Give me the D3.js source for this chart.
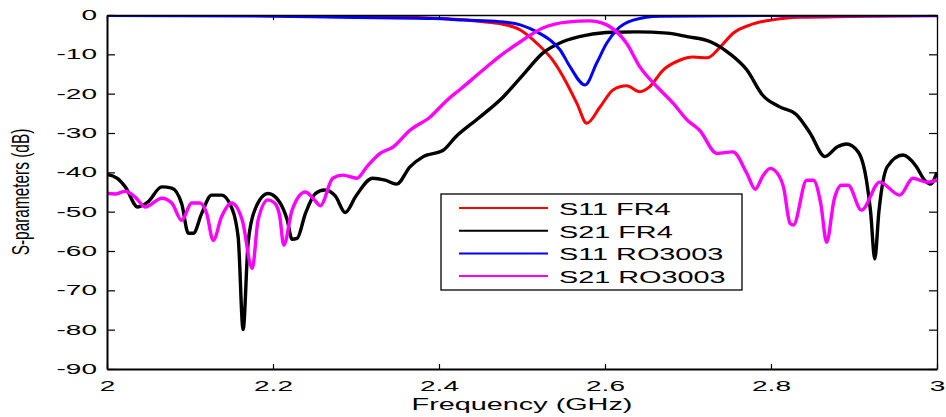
<!DOCTYPE html>
<html>
<head>
<meta charset="utf-8">
<script src="https://cdn.jsdelivr.net/npm/d3@7"></script>
<style>
  body { margin: 0; background: #fff; }
  svg { display: block; font-family: "Liberation Sans", Arial, sans-serif; }
</style>
</head>
<body>
<svg id="chart" width="946" height="417"></svg>
<script>
// S21 FR4 (black)
const s21FrFreq = [2.000, 2.012, 2.022, 2.037, 2.049, 2.066, 2.078, 2.090, 2.098, 2.104,
  2.114, 2.126, 2.138, 2.148, 2.158, 2.164, 2.170, 2.178, 2.194, 2.206,
  2.217, 2.223, 2.229, 2.239, 2.251, 2.262, 2.275, 2.287, 2.300, 2.320,
  2.335, 2.349, 2.365, 2.381, 2.405, 2.420, 2.446, 2.477, 2.501, 2.525,
  2.549, 2.578, 2.610, 2.638, 2.675, 2.699, 2.727, 2.750, 2.771, 2.790,
  2.810, 2.831, 2.847, 2.865, 2.880, 2.891, 2.905, 2.915, 2.920, 2.925,
  2.930, 2.940, 2.959, 2.975, 2.985, 2.992, 3.000];
const s21FrDb = [-40.5, -41.5, -43.7, -48.8, -47.6, -43.7, -44, -48, -55.5, -55.5,
  -50.5, -45.8, -45.8, -48, -56.4, -80, -58, -49.6, -45.4, -47,
  -52, -57, -56.8, -50.5, -45.4, -44.5, -46, -50.2, -46, -41.5,
  -42, -43, -38.6, -36, -34.4, -31, -26.5, -20.9, -15.3, -9.7,
  -6.8, -5.1, -4.4, -4.3, -4.6, -5.5, -6.8, -9.8, -14, -20.4,
  -23.3, -25.4, -30, -36, -33.5, -32.8, -34.8, -42, -50, -62,
  -50, -38.6, -35.6, -38.5, -42, -43, -40];

// S11 FR4 (red)
const s11FrFreq = [2.000, 2.100, 2.250, 2.330, 2.393, 2.430, 2.453, 2.473, 2.498, 2.518,
  2.537, 2.554, 2.566, 2.578, 2.594, 2.610, 2.626, 2.642, 2.654, 2.670,
  2.690, 2.706, 2.723, 2.739, 2.754, 2.775, 2.800, 2.835, 2.895, 3.000];
const s11FrDb = [-0.1, -0.1, -0.2, -0.4, -0.8, -1.2, -1.7, -2.2, -3.8, -7.2,
  -11.5, -17.4, -22.4, -27.5, -23.4, -19, -18, -19.5, -18.2, -14,
  -11.5, -10.7, -10.9, -8.1, -4.7, -2.5, -1.3, -0.6, -0.4, -0.2];

// S11 RO3003 (blue)
const s11RoFreq = [2.000, 2.200, 2.280, 2.393, 2.430, 2.473, 2.498, 2.518, 2.534, 2.546,
  2.558, 2.576, 2.590, 2.602, 2.614, 2.634, 2.666, 2.800, 3.000];
const s11RoDb = [-0.1, -0.3, -0.6, -0.9, -1.3, -1.7, -2.5, -4.3, -6.4, -8.9,
  -13.2, -17.8, -12.2, -7.2, -3.8, -1.3, -0.3, -0.1, -0.1];

// S21 RO3003 (magenta)
const s21RoFreq = [2.000, 2.010, 2.022, 2.034, 2.046, 2.066, 2.078, 2.090, 2.102, 2.112,
  2.120, 2.128, 2.138, 2.150, 2.163, 2.175, 2.182, 2.194, 2.202, 2.208,
  2.213, 2.223, 2.239, 2.248, 2.257, 2.272, 2.284, 2.301, 2.313, 2.329,
  2.345, 2.365, 2.389, 2.410, 2.425, 2.453, 2.473, 2.498, 2.525, 2.554,
  2.582, 2.596, 2.606, 2.626, 2.642, 2.663, 2.682, 2.699, 2.714, 2.735,
  2.754, 2.771, 2.781, 2.790, 2.799, 2.810, 2.815, 2.823, 2.827, 2.843,
  2.851, 2.860, 2.867, 2.876, 2.885, 2.893, 2.909, 2.931, 2.955, 2.971,
  2.988, 3.000];
const s21RoDb = [-45.3, -45.5, -44.8, -46.3, -48.8, -46.6, -47.8, -52.2, -47.8, -47.8,
  -50.4, -57.3, -51.3, -47.8, -52.2, -64.4, -52.2, -47, -47.8, -51,
  -58.5, -49.6, -45, -46.5, -48.5, -41.5, -40.7, -41.5, -38.6, -35.2,
  -33.5, -29.3, -26, -21.6, -19, -14, -10.5, -6.8, -3.3, -1.8,
  -1.5, -2, -3, -7.2, -13.2, -18.3, -22.4, -26.7, -29.3, -35.2,
  -34.8, -40.3, -44.3, -41, -39, -41, -43.7, -53, -53.4, -42,
  -42, -48, -57.8, -47, -43.3, -43.3, -49.6, -42.5, -45.8, -41.5,
  -42.5, -42];

const seriesNames = ["S11 FR4", "S21 FR4", "S11 RO3003", "S21 RO3003"];
const xTicks = [2, 2.2, 2.4, 2.6, 2.8, 3];
const yTicks = [0, -10, -20, -30, -40, -50, -60, -70, -80, -90];

const series = [
  {name: seriesNames[0], color: "#ff0000", width: 3, f: s11FrFreq, v: s11FrDb},
  {name: seriesNames[1], color: "#000000", width: 3.4, f: s21FrFreq, v: s21FrDb},
  {name: seriesNames[2], color: "#0000ff", width: 3, f: s11RoFreq, v: s11RoDb},
  {name: seriesNames[3], color: "#ff00ff", width: 3.4, f: s21RoFreq, v: s21RoDb}
];

const width = 946, height = 417;
const margin = {top: 15, right: 9, bottom: 48, left: 107};
const iw = width - margin.left - margin.right;
const ih = height - margin.top - margin.bottom;

const x = d3.scaleLinear().domain([2, 3]).range([0, iw]);
const y = d3.scaleLinear().domain([-90, 0]).range([ih, 0]);

const svg = d3.select("#chart");
const g = svg.append("g").attr("transform", `translate(${margin.left},${margin.top})`);

// stretch text horizontally like the squeezed original
function widen(sel, k) {
  sel.each(function() {
    const w = this.getComputedTextLength();
    this.setAttribute("textLength", w * k);
    this.setAttribute("lengthAdjust", "spacingAndGlyphs");
  });
}

g.append("clipPath").attr("id", "plot-clip")
  .append("rect").attr("width", iw).attr("height", ih);

const line = d3.line()
  .x(d => x(d[0]))
  .y(d => y(d[1]))
  .curve(d3.curveMonotoneX);

g.append("g").attr("clip-path", "url(#plot-clip)")
  .selectAll("path")
  .data(series)
  .join("path")
    .attr("fill", "none")
    .attr("stroke", d => d.color)
    .attr("stroke-width", d => d.width)
    .attr("stroke-linejoin", "round")
    .attr("d", d => line(d.f.map((f, i) => [f, d.v[i]])));

// axes, ticks pointing inward
const fmt = d => String(+d.toFixed(1));

const xAxis = g.append("g")
  .attr("transform", `translate(0,${ih})`)
  .call(d3.axisBottom(x).tickValues(xTicks).tickFormat(fmt).tickSize(-5).tickSizeOuter(0).tickPadding(12));
const yAxis = g.append("g")
  .call(d3.axisLeft(y).tickValues(yTicks).tickFormat(fmt).tickSize(-8).tickSizeOuter(0).tickPadding(10));
g.append("g")
  .call(d3.axisTop(x).tickValues(xTicks).tickFormat("").tickSize(-5).tickSizeOuter(0));
g.append("g")
  .attr("transform", `translate(${iw},0)`)
  .call(d3.axisRight(y).tickValues(yTicks).tickFormat("").tickSize(-8).tickSizeOuter(0));

g.selectAll(".domain").attr("stroke", "#000").attr("stroke-width", 1.3);
xAxis.select(".domain").attr("stroke-width", 2);
yAxis.select(".domain").attr("stroke-width", 2);
g.selectAll(".tick line").attr("stroke", "#000").attr("stroke-width", 1.2);

g.selectAll(".tick text")
  .attr("font-size", 14)
  .attr("font-family", "Liberation Sans, Arial, sans-serif")
  .attr("fill", "#000")
  .call(widen, 2);

// axis labels
const xl = svg.append("text")
  .attr("x", margin.left + iw / 2)
  .attr("y", 410)
  .attr("text-anchor", "middle")
  .attr("font-size", 16)
  .text("Frequency (GHz)");
widen(xl, 1.8);

svg.append("text")
  .attr("transform", `translate(29,${margin.top + ih / 2}) scale(1.5,1) rotate(-90)`)
  .attr("text-anchor", "middle")
  .attr("font-size", 15.4)
  .text("S-parameters (dB)");

// legend
const lg = svg.append("g").attr("transform", "translate(441,194)");
lg.append("rect")
  .attr("width", 301).attr("height", 96)
  .attr("fill", "#fff").attr("stroke", "#000").attr("stroke-width", 1.3);

const rows = lg.selectAll("g.row")
  .data(series)
  .join("g")
    .attr("class", "row")
    .attr("transform", (d, i) => `translate(0,${14 + i * 22.7})`);
rows.append("line")
  .attr("x1", 18).attr("x2", 107)
  .attr("stroke", d => d.color).attr("stroke-width", 2);
rows.append("text")
  .attr("x", 118).attr("y", 7)
  .attr("font-size", 16)
  .text(d => d.name)
  .call(widen, 1.8);
</script>
</body>
</html>
